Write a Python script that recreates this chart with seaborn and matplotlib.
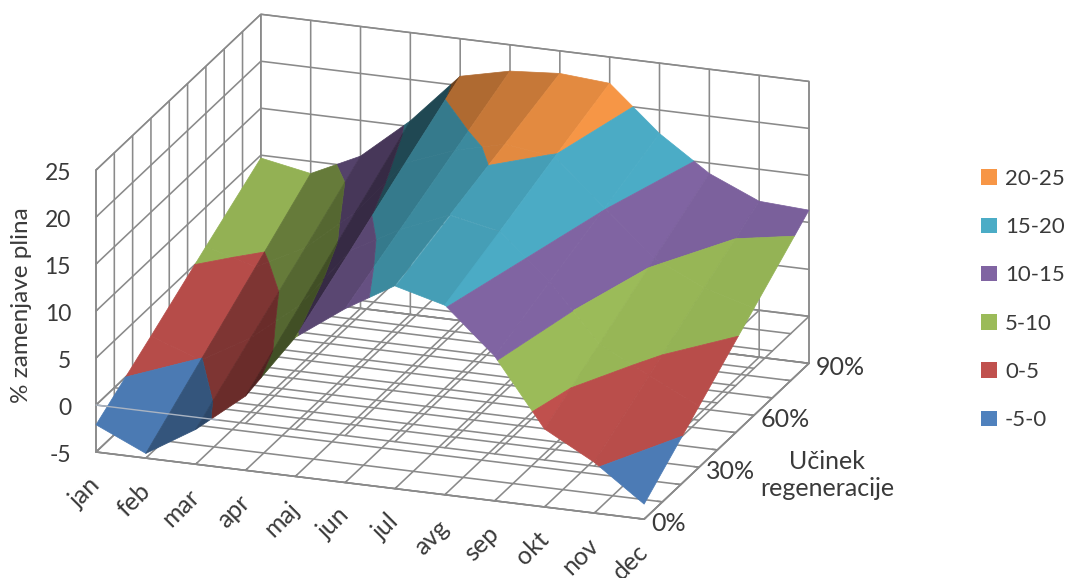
import numpy as np
import matplotlib
matplotlib.use("Agg")
import matplotlib.pyplot as plt
import seaborn as sns
from matplotlib.patches import Patch
from mpl_toolkits.mplot3d import proj3d
from mpl_toolkits.mplot3d.art3d import Poly3DCollection

# Share of gas replaced (%) per month, one row per regeneration efficiency
months = ["jan", "feb", "mar", "apr", "maj", "jun", "jul", "avg", "sep", "okt", "nov", "dec"]
efficiency = [0, 30, 60, 90]
row_0 = [-2.1, -4.5, -1.3, 2.9, 9.8, 13.5, 16.6, 15.2, 10.4, 3.3, 0.4, -3.4]
row_30 = [1.8, -0.1, 2.9, 7.1, 13.5, 16.4, 18.6, 17.5, 12.8, 6.8, 4.1, 1.5]
row_60 = [5.8, 4.3, 7.0, 11.4, 17.3, 19.3, 20.6, 19.9, 15.1, 10.4, 7.9, 6.4]
row_90 = [9.7, 8.7, 11.2, 15.6, 21.0, 22.2, 22.6, 22.2, 17.5, 13.9, 11.6, 11.3]

band_edges = [-5, 0, 5, 10, 15, 20, 25]
band_labels = ["-5-0", "0-5", "5-10", "10-15", "15-20", "20-25"]
band_colors = ["#4F81BD", "#C0504D", "#9BBB59", "#8064A2", "#4BACC6", "#F79646"]

GRID = "#8a8a8a"
TEXT = "#3a3a3a"
W, H = 1068, 578

sns.set_theme(style="white", font="Lato")
plt.rcParams.update({
    "grid.color": GRID,
    "grid.linewidth": 1.15,
    "axes.edgecolor": GRID,
    "axes.linewidth": 1.15,
    "xtick.color": GRID,
    "ytick.color": GRID,
    "xtick.major.width": 1.15,
    "ytick.major.width": 1.15,
    "font.size": 16,
})

surface = np.array([row_0, row_30, row_60, row_90], dtype=float)
palette = sns.color_palette(band_colors)


def clip_level(poly, level, keep_above):
    """Sutherland-Hodgman clip of a 3D polygon against a horizontal plane."""
    sign = 1 if keep_above else -1
    out = []
    for k, cur in enumerate(poly):
        nxt = poly[(k + 1) % len(poly)]
        d0, d1 = sign * (cur[2] - level), sign * (nxt[2] - level)
        if d0 >= 0:
            out.append(cur)
        if d0 * d1 < 0:
            t = d0 / (d0 - d1)
            out.append(tuple(c + t * (n - c) for c, n in zip(cur, nxt)))
    return out


def brightness(slope):
    """Facet lighting: faces rising towards summer turn away from the light."""
    return np.interp(slope, [-5, -2.5, -1.5, -0.4, 1.6, 2.8, 5.0, 5.5],
                     [1, 0.97, 0.94, 0.9, 0.82, 0.66, 0.5, 0.42])


fig = plt.figure(figsize=(W / 100, H / 100), dpi=100)
ax = fig.add_axes([0, (1 - W / H) / 2, 1, W / H], projection="3d",
                  computed_zorder=False, proj_type="ortho")
ax.patch.set_alpha(0)
ax.view_init(elev=19.9, azim=-70.2)
box = (583, 487, 300)

ax.set_xlim(0, 11, view_margin=0)
ax.set_ylim(0, 90, view_margin=0)
ax.set_zlim(-5, 25, view_margin=0)

ax.set_xticks(range(12), months, rotation=45, ha="right", va="top",
              rotation_mode="anchor", color=TEXT, fontsize=18)
ax.set_yticks(range(0, 91, 10),
              [f"{p}%" if p % 30 == 0 else "" for p in range(0, 91, 10)],
              ha="left", va="center", color=TEXT, fontsize=18)
ax.set_zticks(band_edges, [str(v) for v in band_edges], ha="right", va="center",
              color=TEXT, fontsize=16.5)
ax.zaxis.set_ticks_position("lower")
ax.tick_params(axis="x", pad=11)
ax.tick_params(axis="y", pad=-3)
ax.tick_params(axis="z", pad=6)

for axis in (ax.xaxis, ax.yaxis, ax.zaxis):
    axis.set_pane_color((1, 1, 1, 1))
    axis.pane.set_edgecolor(GRID)
    axis.line.set_color(GRID)
    axis._axinfo["tick"]["inward_factor"] = 0
    axis._axinfo["tick"]["outward_factor"] = 0.12

# Second grid at the zero level
for p in range(0, 91, 10):
    ax.plot([0, 11], [p, p], [0, 0], color=GRID, lw=1.15, zorder=1)
for i in range(12):
    ax.plot([i, i], [0, 90], [0, 0], color=GRID, lw=1.15, zorder=1)

# Surface: facets split by value band, painted back to front
order = 2
for r in range(len(efficiency) - 2, -1, -1):
    for c in range(len(months) - 1):
        slope = (surface[:, c + 1] - surface[:, c]).mean()
        quad = [(c, efficiency[r], surface[r, c]),
                (c + 1, efficiency[r], surface[r, c + 1]),
                (c + 1, efficiency[r + 1], surface[r + 1, c + 1]),
                (c, efficiency[r + 1], surface[r + 1, c])]
        polys, colors = [], []
        for b, rgb in enumerate(palette):
            part = clip_level(clip_level(quad, band_edges[b], True), band_edges[b + 1], False)
            if len(part) >= 3:
                polys.append(part)
                colors.append(tuple(np.array(rgb) * brightness(slope)) + (1.0,))
        col = Poly3DCollection(polys, facecolors=colors, edgecolors=colors,
                               linewidths=0.5, alpha=1.0)
        col.set_zorder(order)
        ax.add_collection3d(col)
        order += 1

# Zero line of the front edge, faintly visible across the lowest band
ax.plot([0, 2.45], [0, 0], [0, 0], color="#aab4c2", lw=1.0, zorder=order)


def to_screen(x, y, z):
    px, py, _ = proj3d.proj_transform(x, y, z, ax.get_proj())
    return ax.transData.transform((px, py))


# Scale and shift the box so its corners sit where the frame needs them
ax.set_box_aspect(box, zoom=1)
ax.apply_aspect()
left_floor, right_top = to_screen(0, 0, -5), to_screen(11, 90, 25)
zoom = (809 - 96) / (right_top[0] - left_floor[0])
ax.set_box_aspect(box, zoom=zoom)
left_floor = to_screen(0, 0, -5)
shift = np.array([96, H - 452]) - left_floor
pos = ax.get_position(original=True)
ax.set_position([pos.x0 + shift[0] / W, pos.y0 + shift[1] / H, pos.width, pos.height])

fig.text(22 / W, 1 - 305 / H, "% zamenjave plina", rotation=90, ha="center", va="center",
         color=TEXT, fontsize=17.5)
fig.text(827 / W, 1 - 475 / H, "Učinek\nregeneracije", ha="center", va="center",
         color=TEXT, fontsize=18, linespacing=1.25)

handles = [Patch(facecolor=c, edgecolor="none", label=l)
           for c, l in zip(band_colors[::-1], band_labels[::-1])]
fig.legend(handles=handles, loc="center left", bbox_to_anchor=(970 / W, 1 - 299.5 / H),
           frameon=False, fontsize=16, labelcolor=TEXT, handlelength=0.7, handleheight=0.7,
           handletextpad=0.38, labelspacing=1.27, borderpad=0)

fig.savefig("out.png", dpi=100)
